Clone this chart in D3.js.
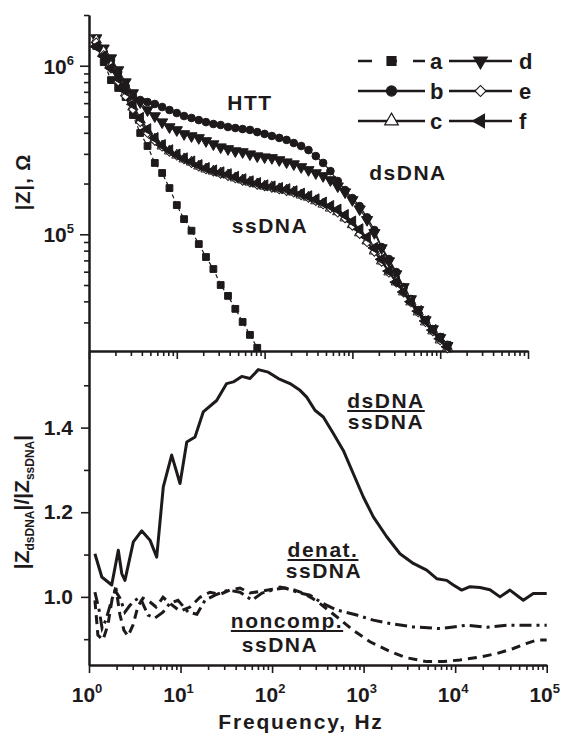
<!DOCTYPE html>
<html>
<head>
<meta charset="utf-8">
<script src="https://cdn.jsdelivr.net/npm/d3@7"></script>
<style>
  body { margin: 0; background: #fff; }
  svg text { font-family: "Liberation Sans", Arial, sans-serif; font-weight: bold; fill: #1e1a1b; }
</style>
</head>
<body>
<svg id="chart" width="563" height="736"></svg>
<script>
// ---- data ----
// impedance sweep, |Z| in ohm
const freqZ = [1.21, 1.47, 1.78, 2.15, 2.61, 3.16, 3.83, 4.64, 5.62, 6.81, 8.25, 10, 12.1, 14.7, 17.8, 21.5, 26.1, 31.6, 38.3, 46.4,
  56.2, 68.1, 82.5, 100, 121, 147, 178, 215, 261, 316, 383, 464, 562, 681, 825, 1000, 1210, 1470, 1780, 2150,
  2610, 3160, 3830, 4640, 5620, 6810, 8250, 10000, 12100];

const zA = [1.31e6, 1.05e6, 8.22e5, 7.38e5, 6.52e5, 5.10e5, 3.99e5, 3.34e5, 2.65e5, 2.31e5, 1.88e5, 1.49e5, 1.23e5, 1.05e5,
  8.75e4, 7.33e4, 6.22e4, 5.00e4, 4.31e4, 3.61e4, 3.02e4, 2.53e4, 2.12e4];
const zB = [1.345e6, 1.206e6, 1.081e6, 9.18e5, 7.58e5, 6.61e5, 6.26e5, 6.09e5, 5.93e5, 5.69e5, 5.46e5, 5.24e5, 5.03e5, 4.90e5,
  4.76e5, 4.63e5, 4.51e5, 4.45e5, 4.33e5, 4.27e5, 4.21e5, 4.16e5, 4.04e5, 3.94e5, 3.83e5, 3.73e5, 3.63e5, 3.48e5, 3.34e5,
  3.16e5, 2.91e5, 2.65e5, 2.37e5, 2.07e5, 1.83e5, 1.64e5, 1.47e5, 1.26e5, 1.06e5, 8.40e4, 7.13e4, 5.97e4, 4.86e4, 4.13e4,
  3.55e4, 3.10e4, 2.74e4, 2.46e4, 2.21e4];
const zC = [1.42e6, 1.21e6, 9.96e5, 8.23e5, 6.89e5, 5.69e5, 4.76e5, 4.10e5, 3.67e5, 3.34e5, 3.12e5, 2.95e5, 2.80e5, 2.68e5,
  2.54e5, 2.44e5, 2.37e5, 2.31e5, 2.25e5, 2.16e5, 2.10e5, 2.04e5, 1.99e5, 1.93e5, 1.91e5, 1.86e5, 1.83e5, 1.78e5, 1.71e5,
  1.66e5, 1.58e5, 1.51e5, 1.43e5, 1.36e5, 1.25e5, 1.14e5, 1.02e5, 9.13e4, 7.96e4, 6.94e4, 5.98e4, 5.21e4, 4.55e4, 3.97e4,
  3.46e4, 3.02e4, 2.67e4, 2.36e4, 2.12e4];
const zD = [1.46e6, 1.27e6, 1.11e6, 9.43e5, 8.00e5, 6.89e5, 6.09e5, 5.46e5, 5.03e5, 4.63e5, 4.33e5, 4.16e5, 3.94e5, 3.83e5,
  3.73e5, 3.58e5, 3.43e5, 3.29e5, 3.21e5, 3.12e5, 3.08e5, 2.99e5, 2.91e5, 2.87e5, 2.84e5, 2.76e5, 2.68e5, 2.61e5, 2.51e5,
  2.41e5, 2.31e5, 2.22e5, 2.10e5, 1.93e5, 1.78e5, 1.60e5, 1.41e5, 1.22e5, 1.02e5, 8.29e4, 6.94e4, 5.81e4, 4.87e4, 4.13e4,
  3.56e4, 3.10e4, 2.74e4, 2.43e4, 2.18e4];
const zE = [1.38e6, 1.16e6, 9.60e5, 8.05e5, 6.60e5, 5.50e5, 4.62e5, 3.98e5, 3.58e5, 3.30e5, 3.08e5, 2.92e5, 2.78e5, 2.64e5,
  2.51e5, 2.42e5, 2.35e5, 2.28e5, 2.21e5, 2.14e5, 2.07e5, 2.02e5, 1.96e5, 1.92e5, 1.88e5, 1.84e5, 1.80e5, 1.76e5, 1.70e5,
  1.64e5, 1.57e5, 1.50e5, 1.42e5, 1.34e5, 1.24e5, 1.12e5, 1.00e5, 8.95e4, 7.85e4, 6.85e4, 5.90e4, 5.15e4, 4.50e4, 3.93e4,
  3.43e4, 3.00e4, 2.65e4, 2.34e4, 2.10e4];
const zF = [1.30e6, 1.14e6, 9.70e5, 8.40e5, 7.10e5, 5.90e5, 4.90e5, 4.20e5, 3.72e5, 3.38e5, 3.15e5, 2.97e5, 2.82e5, 2.70e5,
  2.57e5, 2.47e5, 2.39e5, 2.33e5, 2.27e5, 2.19e5, 2.12e5, 2.06e5, 2.01e5, 1.95e5, 1.92e5, 1.88e5, 1.85e5, 1.80e5, 1.74e5,
  1.68e5, 1.61e5, 1.54e5, 1.47e5, 1.40e5, 1.30e5, 1.19e5, 1.07e5, 9.60e4, 8.30e4, 7.10e4, 6.05e4, 5.20e4, 4.55e4, 3.98e4,
  3.50e4, 3.06e4, 2.70e4, 2.40e4, 2.15e4];
const seriesNames = ["a", "b", "c", "d", "e", "f"];

// ratio curves, lower panel
const dsFreq = [1.16, 1.38, 1.77, 2.09, 2.28, 2.47, 3.05, 3.76, 4.64, 5.49, 6.48, 8.0, 9.87, 11.7, 14.4, 17.7, 24.8, 31.9, 37.7, 46.6,
  57.4, 70.7, 90.9, 117, 157, 202, 239, 294, 363, 467, 600, 772, 993, 1277, 1788, 2496, 3490, 4887, 6285, 8085,
  9550, 11790, 14520, 18670, 24000, 30900, 39700, 55500, 71400, 100000];
const dsRatio = [1.102, 1.047, 1.028, 1.110, 1.055, 1.039, 1.130, 1.156, 1.134, 1.094, 1.260, 1.335, 1.268, 1.366, 1.378, 1.437,
  1.464, 1.504, 1.508, 1.521, 1.516, 1.537, 1.531, 1.516, 1.504, 1.488, 1.472, 1.441, 1.425, 1.386, 1.346, 1.291, 1.236,
  1.189, 1.142, 1.102, 1.079, 1.063, 1.043, 1.039, 1.028, 1.016, 1.024, 1.022, 1.017, 1.000, 1.016, 0.992, 1.008, 1.008];
const denatFreq = [1.16, 1.29, 1.39, 1.53, 1.70, 1.92, 2.18, 2.47, 2.80, 3.18, 3.61, 4.41, 5.26, 6.43, 7.67, 9.38, 12.1, 15.1,
  18.5, 23.8, 33.0, 44.6, 60.4, 77.6, 108, 138, 202, 259, 363, 508, 840, 1276, 1943, 3490, 6830, 9550, 13370, 22100,
  36600, 60500, 100000];
const denatRatio = [1.011, 0.969, 0.926, 0.945, 0.980, 1.016, 0.997, 0.964, 0.980, 0.992, 0.999, 0.957, 0.950, 0.964, 0.985,
  0.992, 0.964, 0.959, 0.992, 1.004, 1.016, 1.011, 0.992, 1.009, 1.018, 1.021, 1.009, 1.004, 0.984, 0.969, 0.957, 0.945,
  0.937, 0.929, 0.925, 0.929, 0.933, 0.928, 0.933, 0.933, 0.933];
const noncompFreq = [1.16, 1.25, 1.42, 1.61, 1.78, 1.97, 2.18, 2.41, 2.67, 3.02, 3.43, 3.89, 4.52, 5.40, 6.43, 7.87, 9.86, 12.7,
  16.3, 21.0, 27.0, 34.7, 44.6, 57.4, 73.8, 100, 122, 165, 218, 273, 334, 508, 771, 1174, 1943, 2955, 4887, 7420, 11290,
  18700, 28400, 43200, 60500, 77800, 100000];
const noncompRatio = [0.992, 0.910, 0.898, 0.934, 0.992, 1.021, 0.957, 0.921, 0.907, 0.933, 0.978, 0.997, 0.990, 0.976, 0.999,
  0.983, 0.966, 0.976, 0.999, 1.011, 1.006, 1.016, 1.021, 1.009, 1.013, 1.018, 1.023, 1.018, 1.009, 0.997, 0.984, 0.953,
  0.921, 0.894, 0.871, 0.856, 0.847, 0.847, 0.851, 0.858, 0.866, 0.878, 0.890, 0.898, 0.898];

// tick labels
const freqDecades = [1, 10, 100, 1000, 10000, 100000];
const freqExponents = [0, 1, 2, 3, 4, 5];
const zDecades = [1e5, 1e6];
const zExponents = [5, 6];
const ratioTicks = [1.0, 1.2, 1.4];
const ratioMinor = [0.9, 1.1, 1.3, 1.5];

// ---- drawing ----
const ink = "#1e1a1b";
const svg = d3.select("#chart");

const xTop = d3.scaleLog().domain([1, 1e5]).range([89, 528]);
const yTop = d3.scaleLog().domain([2.03e4, 2.0e6]).range([351, 15]);
const xBot = d3.scaleLog().domain([1, 1e5]).range([89, 546.7]);
const yBot = d3.scaleLinear().domain([0.839, 1.581]).range([665, 351]);

// minor tick positions 2..9 per decade
function logMinors(lo, hi) {
  const out = [];
  for (let d = lo; d < hi; d *= 10) {
    for (let m = 2; m <= 9; m++) out.push(d * m);
  }
  return out;
}

function styleAxis(g) {
  g.selectAll("path.domain").attr("stroke", ink).attr("stroke-width", 2);
  g.selectAll(".tick line").attr("stroke", ink).attr("stroke-width", 1.6);
  g.selectAll(".tick text").remove();
}

// top panel axes
const topXMinor = logMinors(1, 1e5);
svg.append("g").attr("transform", "translate(0,351)")
  .call(d3.axisBottom(xTop).tickValues(topXMinor).tickSize(5).tickSizeOuter(0).tickFormat(""))
  .call(styleAxis);
svg.append("g").attr("transform", "translate(0,351)")
  .call(d3.axisBottom(xTop).tickValues(freqDecades).tickSize(8).tickSizeOuter(0).tickFormat(""))
  .call(styleAxis);

const topYMinor = logMinors(1e4, 1e6).filter(v => v >= 2.03e4).concat([2e6]);
svg.append("g").attr("transform", "translate(89,0)")
  .call(d3.axisLeft(yTop).tickValues(topYMinor).tickSize(5).tickSizeOuter(0).tickFormat(""))
  .call(styleAxis);
svg.append("g").attr("transform", "translate(89,0)")
  .call(d3.axisLeft(yTop).tickValues(zDecades).tickSize(9).tickSizeOuter(0).tickFormat(""))
  .call(styleAxis);

zDecades.forEach((d, i) => {
  const t = svg.append("text").attr("x", 74).attr("y", yTop(d) + 8).attr("text-anchor", "end").attr("font-size", 21);
  t.append("tspan").text("10");
  t.append("tspan").attr("dy", -9).attr("font-size", 13).text(zExponents[i]);
});

// bottom panel axes
svg.append("g").attr("transform", "translate(0,665)")
  .call(d3.axisBottom(xBot).tickValues(logMinors(1, 1e5)).tickSize(5).tickSizeOuter(0).tickFormat(""))
  .call(styleAxis);
svg.append("g").attr("transform", "translate(0,665)")
  .call(d3.axisBottom(xBot).tickValues(freqDecades).tickSize(8).tickSizeOuter(0).tickFormat(""))
  .call(styleAxis);
svg.append("g").attr("transform", "translate(89,0)")
  .call(d3.axisLeft(yBot).tickValues(ratioMinor).tickSize(5).tickSizeOuter(0).tickFormat(""))
  .call(styleAxis);
svg.append("g").attr("transform", "translate(89,0)")
  .call(d3.axisLeft(yBot).tickValues(ratioTicks).tickSize(8).tickSizeOuter(0).tickFormat(""))
  .call(styleAxis);

ratioTicks.forEach(v => {
  svg.append("text").attr("x", 73).attr("y", yBot(v) + 7).attr("text-anchor", "end")
    .attr("font-size", 21).text(v.toFixed(1));
});

freqDecades.forEach((d, i) => {
  const t = svg.append("text").attr("x", xBot(d) - 2).attr("y", 702).attr("text-anchor", "middle").attr("font-size", 21);
  t.append("tspan").text("10");
  t.append("tspan").attr("dy", -9).attr("font-size", 13).text(freqExponents[i]);
});

svg.append("text").attr("x", 301).attr("y", 729).attr("text-anchor", "middle")
  .attr("font-size", 21).attr("letter-spacing", 1.8).text("Frequency, Hz");

svg.append("text").attr("transform", "translate(30,182) rotate(-90)").attr("text-anchor", "middle")
  .attr("font-size", 20).attr("letter-spacing", 1).text("|Z|, \u03A9");

const yl = svg.append("text").attr("transform", "translate(29,502) rotate(-90)").attr("text-anchor", "middle")
  .attr("font-size", 21);
yl.append("tspan").text("|Z");
yl.append("tspan").attr("dy", 5).attr("font-size", 12).text("dsDNA");
yl.append("tspan").attr("dy", -5).text("|/|Z");
yl.append("tspan").attr("dy", 5).attr("font-size", 12).text("ssDNA");
yl.append("tspan").attr("dy", -5).text("|");

// ---- top panel series ----
const symDiamond = d3.symbol().type(d3.symbolSquare).size(36);
const markers = {
  a: { path: d3.symbol().type(d3.symbolSquare).size(46)(), rot: 0, fill: ink },
  b: { path: d3.symbol().type(d3.symbolCircle).size(46)(), rot: 0, fill: ink },
  c: { path: d3.symbol().type(d3.symbolTriangle).size(46)(), rot: 0, fill: "#fff" },
  d: { path: d3.symbol().type(d3.symbolTriangle).size(54)(), rot: 180, fill: ink },
  e: { path: symDiamond(), rot: 45, fill: "#fff" },
  f: { path: d3.symbol().type(d3.symbolTriangle).size(54)(), rot: -90, fill: ink }
};

const zSeries = [zA, zB, zC, zD, zE, zF].map((vals, i) => ({
  name: seriesNames[i],
  points: vals.map((z, j) => ({ f: freqZ[j], z: z }))
}));

const lineTop = d3.line().x(d => xTop(d.f)).y(d => yTop(d.z));
const drawOrder = ["a", "b", "d", "c", "e", "f"];

drawOrder.forEach(name => {
  const s = zSeries.find(q => q.name === name);
  svg.append("path").datum(s.points)
    .attr("d", lineTop).attr("fill", "none").attr("stroke", ink).attr("stroke-width", 1.2)
    .attr("stroke-dasharray", name === "a" ? "4,3" : null);
});
drawOrder.forEach(name => {
  const s = zSeries.find(q => q.name === name);
  const m = markers[name];
  svg.append("g").selectAll("path").data(s.points).enter().append("path")
    .attr("d", m.path)
    .attr("transform", d => `translate(${xTop(d.f)},${yTop(d.z)}) rotate(${m.rot})`)
    .attr("fill", m.fill).attr("stroke", ink).attr("stroke-width", 1);
});

// legend
const legendRows = [["a", "d"], ["b", "e"], ["c", "f"]];
const legendCols = [{ x0: 358, x1: 425, tx: 430 }, { x0: 449, x1: 512, tx: 519 }];
legendRows.forEach((row, r) => {
  const y = 61 + r * 30;
  row.forEach((name, c) => {
    const col = legendCols[c];
    const m = markers[name];
    svg.append("line").attr("x1", col.x0).attr("x2", col.x1).attr("y1", y).attr("y2", y)
      .attr("stroke", ink).attr("stroke-width", 2.6)
      .attr("stroke-dasharray", name === "a" ? "14,15,10,16,14" : null);
    const mid = (col.x0 + col.x1) / 2;
    svg.append("path").attr("d", d3.symbol().type(name === "b" ? d3.symbolCircle :
        name === "a" || name === "e" ? d3.symbolSquare : d3.symbolTriangle).size(name === "e" ? 60 : 80)())
      .attr("transform", `translate(${mid},${y}) rotate(${m.rot})`)
      .attr("fill", m.fill).attr("stroke", ink).attr("stroke-width", 1.2);
    svg.append("text").attr("x", col.tx).attr("y", y + 8).attr("font-size", 22).text(name);
  });
});

// annotations
function label(x, y, txt, underline) {
  const t = svg.append("text").attr("x", x).attr("y", y).attr("text-anchor", "middle")
    .attr("font-size", 21).attr("letter-spacing", 1.5).text(txt);
  if (underline) {
    const w = t.node().getComputedTextLength();
    svg.append("line").attr("x1", x - w / 2).attr("x2", x + w / 2).attr("y1", y + 3).attr("y2", y + 3)
      .attr("stroke", ink).attr("stroke-width", 2);
  }
}
label(250, 110, "HTT");
label(408, 180, "dsDNA");
label(270, 233, "ssDNA");

// ---- bottom panel ----
const lineBot = d3.line().x(d => xBot(d.f)).y(d => yBot(d.v));
const zipRatio = (fs, vs) => fs.map((f, i) => ({ f: f, v: vs[i] }));

svg.append("path").datum(zipRatio(noncompFreq, noncompRatio)).attr("d", lineBot)
  .attr("fill", "none").attr("stroke", ink).attr("stroke-width", 3).attr("stroke-dasharray", "9,6");
svg.append("path").datum(zipRatio(denatFreq, denatRatio)).attr("d", lineBot)
  .attr("fill", "none").attr("stroke", ink).attr("stroke-width", 3).attr("stroke-dasharray", "12,5,3,5");
svg.append("path").datum(zipRatio(dsFreq, dsRatio)).attr("d", lineBot)
  .attr("fill", "none").attr("stroke", ink).attr("stroke-width", 3).attr("stroke-linejoin", "round");

label(386, 408, "dsDNA", true);
label(386, 429, "ssDNA");
label(323, 557, "denat.", true);
label(324, 578, "ssDNA");
label(287, 628, "noncomp.", true);
label(280, 652, "ssDNA");
</script>
</body>
</html>
